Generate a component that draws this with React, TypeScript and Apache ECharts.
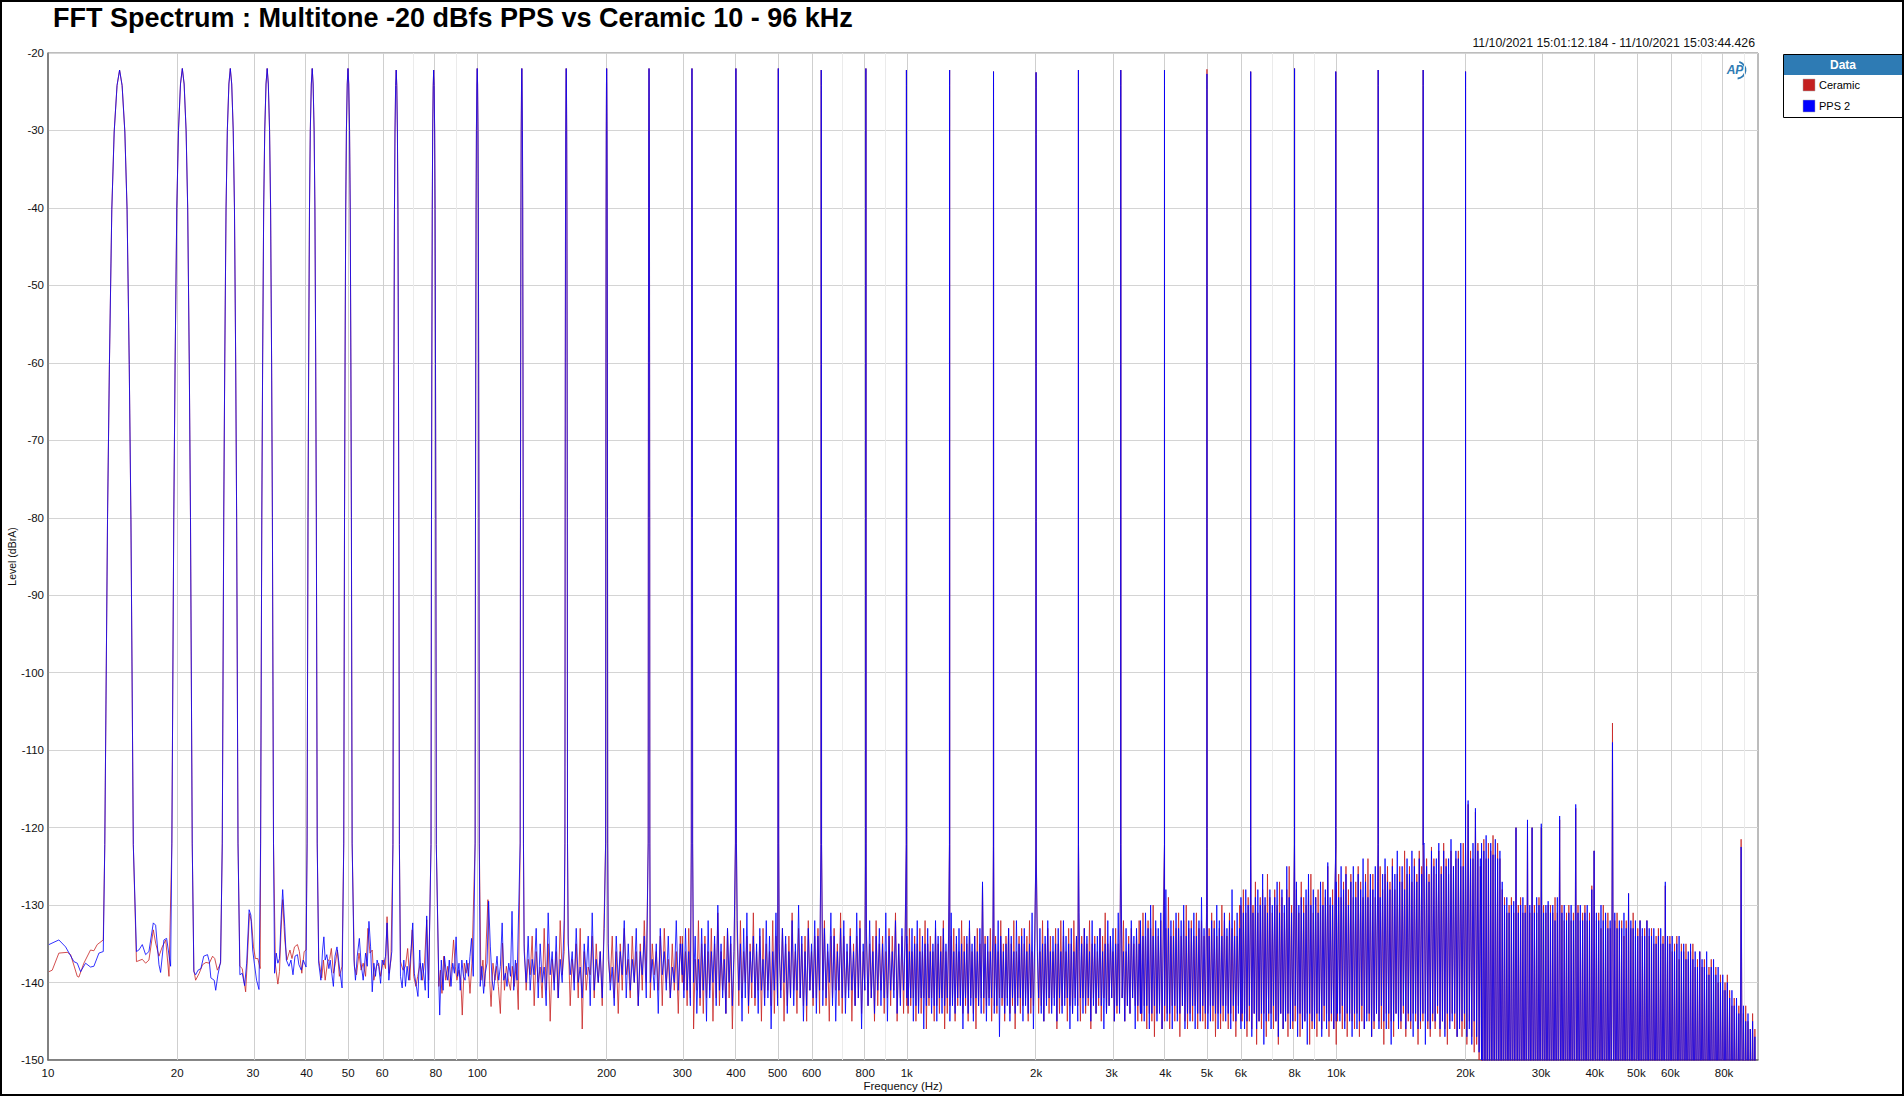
import React, { useEffect, useRef } from 'react';
import * as echarts from 'echarts';

// ---------- DATA ----------
const TONE_HZ = [14.68, 20.55, 26.58, 32.39, 41.24, 49.96, 64.7, 79.1, 99.9, 126.9, 161, 200, 251, 316, 400, 502, 632, 803, 998, 1258, 1592, 2000, 2510, 3150, 3982, 5000, 6322, 7998, 9977, 12524, 15940, 20008];
const TONE_DB_PPS = [-22.2, -22, -22, -22, -22, -22, -22.2, -22.2, -22, -22, -22, -22, -22, -22, -22, -22, -22.2, -22, -22.2, -22.2, -22.4, -22.5, -22.2, -22.2, -22.2, -22.7, -22.4, -22, -22.4, -22.2, -22.2, -22.4];
const TONE_DB_CERAMIC = [-22.2, -22, -22, -22, -22, -22, -22.2, -22.2, -22, -22, -22, -22, -22, -22, -22, -22, -22.2, -22, -22.2, -22.2, -22.4, -22.5, -22.2, -22.2, -22.2, -22.1, -22.4, -22, -22.4, -22.2, -22.2, -22.4];
// shape of each tone line around its bin (Hz offset, dB below the top)
const PEAK_OFFSET_HZ = [-1.12, -0.92, -0.78, -0.6, -0.42, -0.2, 0, 0.2, 0.42, 0.6, 0.78, 0.92, 1.12];
const PEAK_SHAPE_DB = [-100, -58, -38, -18, -8, -2, 0, -2, -8, -18, -38, -58, -100];

// low-frequency noise floor, [Hz, dB]
const LOW_PPS: [number, number][] = [
  [10.05, -135.1], [10.6, -134.5], [10.99, -135.4], [11.49, -137.3], [11.7, -137.5], [11.91, -138.6], [12.23, -137.5], [12.56, -138.0], [12.79, -137.9], [13.14, -136.2], [13.45, -136.0],
  [16.07, -136.0], [16.28, -135.8], [16.58, -135.1], [16.88, -136.4], [17.18, -136.0], [17.59, -132.3], [17.81, -132.6], [18.13, -137.7], [18.29, -138.7], [18.62, -134.5], [18.89, -134.3], [19.3, -137.9],
  [21.86, -138.6], [22.07, -139.0], [22.36, -138.4], [22.7, -138.2], [23.05, -136.6], [23.52, -136.4], [23.75, -137.3], [23.95, -139.4], [24.38, -139.7], [24.58, -141.0], [24.87, -139.0], [25.23, -137.3],
  [27.98, -139.0], [28.34, -138.8], [28.7, -140.4], [29.02, -137.5], [29.4, -130.6], [29.68, -131.3], [29.97, -135.8], [30.23, -137.5], [30.6, -139.7], [31.0, -140.9],
  [33.7, -138.8], [34.0, -136.2], [34.3, -137.5], [34.6, -136.9], [34.9, -131.9], [35.2, -128.0], [35.6, -132.8], [35.9, -137.1], [36.4, -137.9], [36.8, -137.1], [37.2, -139.0], [37.6, -136.6], [38.1, -136.4], [38.4, -137.7], [38.9, -138.4], [39.3, -137.1], [39.9, -138.0],
  [42.7, -137.5], [43.2, -139.7], [43.6, -135.8], [43.9, -134.1], [44.2, -137.1], [44.6, -136.4], [45.1, -138.2], [45.4, -137.1], [45.8, -138.8], [46.2, -140.5], [46.6, -136.6], [47.1, -135.4], [47.5, -137.1], [47.9, -138.8], [48.4, -140.7],
  [51.6, -137.1], [52.0, -139.7], [52.5, -136.6], [53.1, -134.3], [53.6, -137.5], [54.2, -139.7], [54.9, -136.2], [55.4, -137.9], [55.9, -132.1], [56.4, -135.4], [56.9, -141.2], [57.4, -137.5], [57.9, -139.2], [58.4, -137.1], [58.9, -137.9], [59.5, -140.1], [60.0, -137.1], [60.5, -137.7], [61.1, -136.6], [61.6, -132.3], [62.2, -139.7], [62.7, -137.5], [63.2, -136.0],
  [66.2, -139.2], [66.8, -140.7], [67.4, -137.1], [68.0, -140.5], [68.6, -137.9], [69.2, -139.7], [70.1, -135.6], [70.7, -132.3], [71.3, -138.8], [72.1, -140.5], [72.7, -141.8], [73.4, -135.8], [74.0, -139.7], [74.6, -137.5], [75.6, -141.0], [76.2, -131.4], [76.9, -142.0],
  [81.3, -139.7], [81.7, -144.2], [82.4, -137.1], [83.2, -141.0], [83.8, -136.6], [84.5, -138.4], [85.3, -139.7], [86.0, -137.1], [86.8, -140.5], [87.6, -137.5], [88.4, -138.8], [89.2, -134.1], [89.9, -139.2], [90.6, -137.5], [91.2, -141.0], [92.0, -137.1], [92.8, -139.2], [93.6, -139.7], [94.4, -137.1], [95.3, -139.2], [96.1, -136.6], [96.9, -134.3], [97.8, -139.2],
  [101.5, -140.5], [102.4, -137.9], [103.4, -141.4], [104.3, -138.8], [105.3, -137.5], [106.2, -129.5], [107.2, -135.4], [108.2, -139.7], [109.1, -141.0], [110.1, -138.8], [111.1, -136.6], [112.1, -139.7], [113.1, -137.9], [114.2, -132.3], [115.2, -139.7], [116.2, -138.8], [117.2, -140.5], [118.3, -137.5], [119.4, -139.2], [120.4, -130.8], [121.5, -141.0], [122.6, -137.1], [123.7, -139.7],
];
const LOW_CERAMIC: [number, number][] = [
  [10.05, -138.6], [10.23, -138.4], [10.6, -136.2], [11.09, -136.1], [11.29, -136.4], [11.7, -139.2], [11.8, -139.3], [12.12, -137.5], [12.56, -135.8], [12.79, -135.9], [13.02, -135.1], [13.45, -134.5],
  [16.07, -137.3], [16.58, -137.0], [16.88, -137.5], [17.18, -137.1], [17.59, -133.2], [17.81, -134.9], [18.13, -136.6], [18.45, -135.4], [18.8, -134.5], [19.13, -139.2],
  [21.86, -138.4], [22.07, -139.7], [22.5, -138.8], [22.9, -137.7], [23.33, -137.4], [23.75, -137.5], [24.17, -136.6], [24.45, -136.9], [24.8, -138.4], [25.23, -137.5],
  [27.98, -137.9], [28.34, -138.2], [28.86, -141.2], [29.12, -137.1], [29.45, -131.1], [29.78, -132.1], [30.1, -135.4], [30.4, -136.9], [30.8, -136.9], [31.2, -138.2],
  [33.85, -137.7], [34.3, -140.2], [34.6, -138.6], [34.9, -133.2], [35.2, -129.3], [35.6, -134.5], [36.0, -137.1], [36.6, -135.8], [37.0, -136.9], [37.5, -135.4], [38.1, -135.1], [38.5, -136.0], [39.0, -138.8], [39.5, -136.0], [39.9, -135.8],
  [42.7, -137.1], [43.4, -139.4], [43.8, -137.1], [44.2, -139.7], [44.8, -137.3], [45.3, -136.9], [45.7, -135.6], [46.2, -138.8], [46.7, -137.5], [47.2, -135.8], [47.7, -139.2], [48.4, -137.9],
  [51.7, -137.9], [52.3, -139.0], [53.0, -136.2], [53.6, -138.4], [54.2, -137.5], [54.9, -139.2], [55.6, -133.0], [56.2, -136.2], [56.9, -135.8], [57.4, -139.7], [58.2, -137.9], [58.9, -137.5], [59.5, -139.2], [60.4, -137.1], [61.1, -138.2], [61.6, -131.5], [62.3, -138.8], [62.9, -137.1],
  [66.2, -137.3], [67.1, -138.4], [68.0, -137.9], [68.8, -135.6], [69.6, -139.7], [70.5, -133.2], [71.1, -139.2], [71.9, -140.5], [72.6, -139.2], [73.6, -137.5], [74.5, -139.7], [75.3, -137.5], [76.2, -131.9], [77.0, -139.7],
  [81.3, -140.5], [82.0, -138.4], [82.7, -141.4], [83.5, -136.6], [84.4, -139.7], [85.3, -137.9], [86.2, -140.5], [87.1, -137.9], [88.0, -134.5], [88.8, -137.9], [89.6, -139.7], [90.6, -138.4], [91.5, -139.7], [92.2, -144.2], [93.2, -137.5], [94.1, -138.8], [95.1, -137.5], [96.1, -141.4], [97.1, -137.5],
  [101.9, -139.7], [103.0, -137.1], [104.0, -140.5], [104.9, -134.5], [105.8, -129.3], [106.8, -139.7], [107.6, -143.1], [108.7, -137.5], [109.9, -139.7], [110.7, -137.9], [111.9, -140.5], [113.1, -144.0], [114.4, -134.9], [115.6, -141.0], [116.8, -137.9], [118.1, -139.7], [119.4, -141.0], [120.6, -137.9], [121.9, -140.5], [123.2, -137.5], [124.5, -143.5],
];

// dense noise bands above 128 Hz: alternating bin tops (hi) and troughs (lo)
const BAND_EDGES_HZ = [128.5, 300, 1000, 3500, 6000, 10000, 21800, 95000];
const BELOW_AXIS_DB = -160; // troughs that fall below the -150 dB axis floor

const PPS_HI = [
  [-136, -134, -137, -133, -135, -138, -131, -136, -134, -137, -132, -135, -136, -133, -138, -135, -134, -131, -137, -136, -133, -135, -138, -134, -136, -132, -135, -137, -133, -136, -134, -130, -137, -135, -133, -136, -134, -138, -132, -135],
  [-135, -133, -136, -131, -134, -137, -133, -135, -132, -136, -134, -130, -135, -137, -133, -134, -136, -132, -135, -133, -131, -136, -134, -135, -133, -137, -132, -134, -136, -131, -135, -133, -134, -136, -132, -135, -130, -134, -136, -133, -135, -132, -134, -137, -133, -135, -131, -134, -136, -133, -132, -135, -134, -136, -131, -133, -135, -134, -132, -136, -134, -133, -135, -131, -134, -136, -132, -135, -133, -134],
  [-134, -136, -133, -135, -132, -136, -134, -135, -133, -136, -135, -132, -134, -136, -133, -135, -134, -131, -136, -134, -133, -135, -136, -134, -132, -135, -134, -136, -133, -127, -135, -134, -136, -133, -135, -132, -134, -136, -135, -133, -134, -136, -132, -135, -134, -133, -136, -135, -131, -134, -136, -133, -135, -134, -132, -136, -134, -135, -133, -136, -132, -134, -135, -133, -136, -134, -131, -135, -133, -134, -136, -132, -135, -134, -133, -136, -135, -132, -134, -133, -135, -131, -134, -136, -133, -135, -132, -134, -133, -135],
  [-132, -134, -131, -133, -130, -134, -132, -133, -131, -134, -128, -133, -132, -134, -131, -133, -132, -130, -134, -132, -133, -131, -134, -132, -129, -133, -131, -134, -132, -133, -130, -132, -134, -131, -133, -132, -128, -134, -131, -133],
  [-129, -131, -128, -130, -127, -131, -129, -128, -130, -126, -129, -131, -128, -130, -129, -127, -131, -128, -130, -125, -129, -131, -128, -127, -130, -129, -131, -128, -126, -130, -128, -129, -131, -127, -130, -128, -124.5, -129, -130, -127],
  [-127, -129, -125, -128, -126, -130, -127, -125, -129, -126, -128, -124, -127, -129, -126, -128, -125, -127, -129, -126, -124, -127, -128, -125, -126, -123, -127, -125, -128, -124, -126, -123, -125, -127, -124, -126, -122, -125, -127, -123, -125, -124, -122, -126, -123, -125, -124, -121.5, -125, -123, -124, -122, -125, -123, -116.5, -124, -122, -117.5, -123, -124],
  [-122, -123, -121, -124, -122, -123.5, -121.5, -124, -123, -127, -130, -129, -131, -130, -129.5, -120, -131, -130, -129, -131, -119, -130, -120, -131, -129, -130, -119.5, -131, -130, -129.5, -131, -130, -132, -129, -118.5, -131, -130, -132, -131, -130, -132, -117, -131, -130, -132, -131, -130, -132, -128, -123, -131, -132, -130, -132, -131, -133, -132, -109, -131, -133, -132, -133, -131, -133, -128.5, -132, -133, -132, -134, -132, -133, -134, -132, -133, -134, -133, -135, -134, -133, -135, -127, -134, -135, -134, -136, -135, -134, -136, -135, -137, -136, -135, -137, -136, -138, -136, -137, -138, -136, -139, -138, -137, -139, -138, -140, -139, -141, -140, -142, -141, -143, -142, -144, -122.5, -143, -145, -144, -146, -145, -147],
];
const PPS_LO = [
  [-140, -141, -139, -142, -140, -143, -139, -141, -142, -140, -144, -139, -141, -140, -142, -139, -143, -141, -140, -142, -139, -141, -143, -140, -139, -142, -141, -140, -143, -139, -142, -140, -141, -144, -139, -141, -142, -140, -141, -139],
  [-142, -141, -143, -140, -144, -142, -141, -145, -142, -140, -143, -141, -142, -144, -140, -143, -142, -141, -145, -142, -143, -140, -142, -144, -141, -143, -142, -146, -141, -143, -142, -140, -144, -142, -143, -141, -142, -145, -143, -141, -142, -144, -141, -143, -142, -140, -143, -145, -141, -142, -144, -142, -141, -143, -142, -146, -141, -143, -142, -144, -141, -143, -142, -145, -141, -142, -144, -143, -141, -142],
  [-143, -142, -145, -143, -144, -142, -146, -143, -142, -144, -143, -145, -142, -144, -143, -142, -145, -143, -144, -142, -143, -146, -142, -144, -143, -145, -142, -143, -144, -142, -145, -143, -142, -144, -143, -147, -142, -144, -143, -145, -142, -144, -143, -142, -145, -143, -144, -142, -146, -143, -142, -144, -145, -143, -142, -144, -143, -145, -142, -144, -143, -142, -146, -144, -143, -145, -142, -144, -143, -142, -145, -143, -144, -142, -143, -146, -144, -143, -142, -145, -143, -144, -142, -145, -143, -144, -142, -146, -143, -144],
  [-144, -145, -143, -146, -144, -143, -145, -144, -146, -143, -145, -144, -146, -143, -145, -144, -143, -146, -144, -145, -143, -146, -144, -145, -143, -144, -146, -145, -143, -144, -146, -144, -143, -145, -144, -146, -143, -145, -144, -146],
  [-144, -146, -145, -143, -147, -144, -146, -145, -144, -148, -145, -144, -146, -143, -145, -147, -144, -146, -145, -144, -146, -145, -143, -147, -144, -146, -145, -148, -144, -145, -146, -144, -145, -147, -143, -146, -145, -144, -146, -145],
  [-144, -145, -143, -146, -144, -145, -147, -144, -146, -145, -143, -146, -145, -144, -147, -145, -144, -146, -143, -145, -146, -144, -148, -145, -144, -146, -145, -143, -146, -144, -145, -147, -144, -146, -145, -144, -148, -145, -146, -144, -145, -143, -146, -145, -147, -144, -146, -145, -144, -147, -146, -145, -144, -147, -146, -148, -145, -147, -149, -150],
  [],
];
const CERAMIC_HI = [
  [-135, -137, -134, -136, -138, -133, -135, -137, -136, -132, -136, -134, -137, -135, -133, -136, -138, -134, -135, -136, -131, -137, -134, -136, -135, -133, -137, -134, -136, -135, -132, -137, -135, -136, -134, -133, -137, -135, -136, -134],
  [-134, -136, -133, -135, -137, -132, -135, -134, -136, -133, -135, -131, -136, -134, -133, -135, -137, -134, -132, -136, -134, -135, -131, -136, -134, -133, -135, -136, -132, -134, -136, -133, -135, -134, -131, -136, -133, -135, -134, -132, -136, -134, -133, -135, -132, -136, -134, -133, -135, -131, -134, -136, -133, -135, -134, -132, -136, -133, -135, -134, -132, -135, -134, -136, -133, -134, -131, -135, -134, -133],
  [-135, -133, -136, -134, -135, -133, -136, -132, -135, -134, -136, -133, -135, -134, -132, -136, -135, -134, -133, -135, -136, -132, -134, -135, -133, -136, -134, -133, -135, -127.5, -134, -136, -133, -135, -134, -136, -132, -135, -134, -133, -135, -132, -136, -134, -133, -135, -134, -132, -136, -135, -134, -136, -132, -135, -133, -134, -136, -133, -135, -132, -134, -136, -133, -135, -132, -134, -136, -134, -133, -135, -132, -135, -134, -136, -133, -134, -131, -135, -134, -136, -133, -135, -134, -132, -136, -134, -133, -135, -134, -132],
  [-133, -131, -134, -132, -133, -130, -133, -134, -132, -131, -133, -129, -134, -132, -133, -131, -134, -132, -130, -133, -132, -134, -131, -133, -132, -134, -130, -133, -131, -132, -134, -133, -130, -132, -134, -131, -133, -132, -134, -130],
  [-130, -128, -131, -129, -128, -130, -127, -131, -129, -128, -130, -126, -129, -131, -128, -130, -127, -129, -131, -128, -125, -130, -129, -128, -131, -127, -129, -130, -128, -126, -131, -129, -128, -130, -127, -129, -125, -130, -128, -129],
  [-128, -126, -129, -127, -125, -128, -126, -129, -127, -125, -127, -129, -126, -124, -128, -126, -129, -127, -125, -128, -126, -125, -127, -124, -128, -126, -125, -127, -123, -126, -125, -127, -124, -126, -123, -125, -127, -124, -126, -122.5, -124, -126, -123, -125, -122, -124, -126, -123, -125, -124, -123, -125, -122, -124, -117, -123, -124, -118, -122, -125],
  [-123, -121.5, -124, -122, -123, -121, -123.5, -122, -124, -128, -129, -131, -130, -129, -131, -120, -130, -129, -131, -130, -119.5, -131, -120, -130, -131, -129, -120, -130, -131, -130, -130, -131, -129, -131, -119, -130, -132, -131, -130, -132, -131, -117.5, -130, -132, -131, -130, -132, -131, -127.5, -123, -132, -131, -133, -130, -132, -131, -133, -106.5, -132, -131, -133, -132, -134, -132, -128.5, -133, -131, -134, -133, -132, -134, -133, -132, -134, -133, -135, -134, -133, -135, -134, -127.5, -135, -134, -136, -135, -134, -137, -135, -136, -135, -137, -136, -135, -138, -137, -136, -138, -137, -139, -138, -137, -139, -138, -140, -139, -141, -140, -139, -141, -143, -142, -144, -143, -121.5, -144, -143, -145, -146, -144, -146],
];
const CERAMIC_LO = [
  [-141, -139, -143, -140, -142, -141, -145, -140, -142, -139, -141, -143, -140, -142, -146, -141, -139, -142, -140, -143, -141, -140, -142, -144, -141, -139, -142, -140, -143, -141, -140, -142, -139, -141, -143, -140, -142, -141, -144, -140],
  [-141, -143, -142, -146, -141, -143, -144, -142, -141, -145, -142, -143, -141, -144, -142, -146, -141, -143, -142, -140, -144, -142, -143, -141, -145, -142, -141, -143, -144, -142, -141, -145, -143, -142, -141, -144, -142, -143, -145, -141, -143, -142, -144, -141, -143, -145, -142, -141, -143, -144, -142, -141, -145, -143, -142, -144, -141, -143, -142, -145, -143, -141, -144, -142, -143, -141, -145, -142, -144, -143],
  [-144, -143, -142, -145, -143, -144, -142, -146, -143, -142, -145, -143, -144, -142, -146, -144, -143, -142, -145, -143, -142, -144, -143, -145, -142, -144, -146, -143, -142, -144, -143, -142, -145, -143, -144, -142, -143, -145, -142, -144, -143, -146, -142, -144, -143, -142, -145, -144, -143, -142, -144, -143, -145, -142, -144, -143, -142, -146, -144, -143, -142, -145, -143, -144, -142, -143, -145, -142, -144, -143, -146, -142, -144, -143, -145, -142, -144, -143, -142, -145, -144, -143, -142, -145, -143, -144, -142, -143, -145, -144],
  [-145, -143, -146, -144, -145, -147, -144, -143, -146, -145, -144, -146, -143, -145, -144, -147, -143, -145, -146, -144, -145, -143, -146, -144, -145, -146, -144, -143, -145, -147, -144, -146, -145, -143, -146, -144, -145, -147, -143, -145],
  [-145, -144, -147, -145, -146, -144, -148, -145, -146, -144, -147, -145, -144, -146, -145, -148, -144, -146, -145, -147, -144, -146, -145, -144, -147, -146, -145, -144, -148, -146, -145, -147, -144, -146, -145, -144, -147, -145, -146, -148],
  [-145, -144, -146, -145, -147, -144, -145, -146, -144, -147, -145, -146, -144, -145, -147, -146, -144, -145, -146, -148, -144, -146, -145, -147, -144, -145, -146, -144, -147, -145, -146, -144, -145, -148, -146, -145, -144, -146, -147, -145, -146, -144, -147, -145, -146, -148, -145, -144, -146, -147, -145, -147, -146, -148, -145, -147, -149, -148, -150, -151],
  [],
];

// axis ticks
const TICK_HZ = [10, 20, 30, 40, 50, 60, 80, 100, 200, 300, 400, 500, 600, 800, 1000, 2000, 3000, 4000, 5000, 6000, 8000, 10000, 20000, 30000, 40000, 50000, 60000, 80000];
const TICK_LABELS = ['10', '20', '30', '40', '50', '60', '80', '100', '200', '300', '400', '500', '600', '800', '1k', '2k', '3k', '4k', '5k', '6k', '8k', '10k', '20k', '30k', '40k', '50k', '60k', '80k'];
const MINOR_GRID_HZ = [70, 90, 700, 900, 7000, 9000, 70000, 90000];
const X_MIN_HZ = 10;
const X_MAX_HZ = 96000;

const TITLE = 'FFT Spectrum : Multitone -20 dBfs PPS vs Ceramic 10 - 96 kHz';
const TIMESTAMP = '11/10/2021 15:01:12.184 - 11/10/2021 15:03:44.426';

// ---------- build ----------
function buildSeries(low: [number, number][], hiBands: number[][], loBands: number[][], tonesDb: number[]) {
  const pts: [number, number][] = [];
  low.forEach((p) => pts.push([p[0], p[1]]));
  hiBands.forEach((hi, b) => {
    const lo = loBands[b] || [];
    const from = BAND_EDGES_HZ[b];
    const to = BAND_EDGES_HZ[b + 1];
    const n = hi.length * 2;
    for (let k = 0; k < n; k++) {
      const f = from * Math.pow(to / from, k / (n - 1));
      const i = Math.floor(k / 2);
      const v = k % 2 === 0 ? hi[i] : lo.length ? lo[i] : BELOW_AXIS_DB;
      if (TONE_HZ.some((t) => Math.abs(t - f) < 1.25)) continue;
      pts.push([f, v]);
    }
  });
  TONE_HZ.forEach((t, i) => {
    PEAK_OFFSET_HZ.forEach((o, j) => pts.push([t + o, tonesDb[i] + PEAK_SHAPE_DB[j]]));
  });
  pts.sort((a, b) => a[0] - b[0]);
  return pts.map((p) => [Math.log10(p[0]), p[1]]);
}

export default function App() {
  const ref = useRef<HTMLDivElement>(null);
  useEffect(() => {
    document.body.style.margin = '0';
    const chart = echarts.init(ref.current!, null, { renderer: 'svg' });
    const font = 'Liberation Sans, Arial, sans-serif';
    const tickVals = TICK_HZ.map((f) => Math.log10(f));
    const fmt = (v: number) => {
      const i = tickVals.findIndex((t) => Math.abs(t - v) < 1e-6);
      return i >= 0 ? TICK_LABELS[i] : '';
    };
    const gridLines = [
      ...TICK_HZ.slice(1).map((f) => ({ xAxis: Math.log10(f), lineStyle: { color: '#cfcfcf', width: 1, type: 'solid' } })),
      ...MINOR_GRID_HZ.map((f) => ({ xAxis: Math.log10(f), lineStyle: { color: '#ebebeb', width: 1, type: 'solid' } })),
    ];
    const option: any = {
      animation: false,
      backgroundColor: '#ffffff',
      grid: { left: 48, right: 146, top: 53, bottom: 36, show: true, borderColor: '#7a7a7a', borderWidth: 1, outerBoundsMode: 'none', containLabel: false },
      xAxis: {
        type: 'value',
        min: Math.log10(X_MIN_HZ),
        max: Math.log10(X_MAX_HZ),
        name: 'Frequency (Hz)',
        nameLocation: 'middle',
        nameGap: 20,
        nameMoveOverlap: false,
        nameTextStyle: { fontFamily: font, fontSize: 11.5, color: '#111' },
        axisLine: { show: true, lineStyle: { color: '#6e6e6e', width: 1.5 } },
        axisTick: { show: false, customValues: tickVals },
        axisLabel: { customValues: tickVals, formatter: fmt, fontFamily: font, fontSize: 11.5, color: '#111', margin: 7 },
        splitLine: { show: false },
      },
      yAxis: {
        type: 'value',
        min: -150,
        max: -20,
        interval: 10,
        name: 'Level (dBrA)',
        nameLocation: 'middle',
        nameGap: 31,
        nameMoveOverlap: false,
        nameTextStyle: { fontFamily: font, fontSize: 10.5, color: '#111' },
        axisLine: { show: true, lineStyle: { color: '#6e6e6e', width: 1.5 } },
        axisTick: { show: false },
        axisLabel: { fontFamily: font, fontSize: 11.5, color: '#111', margin: 4 },
        splitLine: { show: true, lineStyle: { color: '#d4d4d4', width: 1 } },
      },
      series: [
        {
          type: 'line',
          name: 'grid',
          data: [],
          z: 1,
          silent: true,
          markLine: { silent: true, z: 1, symbol: ['none', 'none'], label: { show: false }, animation: false, data: gridLines },
        },
        {
          type: 'line',
          name: 'Ceramic',
          data: buildSeries(LOW_CERAMIC, CERAMIC_HI, CERAMIC_LO, TONE_DB_CERAMIC),
          showSymbol: false,
          symbol: 'none',
          z: 2,
          lineStyle: { color: 'rgb(200,35,35)', width: 1, opacity: 0.8 },
          itemStyle: { color: 'rgb(200,35,35)' },
        },
        {
          type: 'line',
          name: 'PPS 2',
          data: buildSeries(LOW_PPS, PPS_HI, PPS_LO, TONE_DB_PPS),
          showSymbol: false,
          symbol: 'none',
          z: 3,
          lineStyle: { color: 'rgb(0,0,255)', width: 1, opacity: 0.8 },
          itemStyle: { color: 'rgb(0,0,255)' },
        },
      ],
      graphic: [
        { type: 'rect', shape: { x: 1, y: 1, width: 1902, height: 1094 }, style: { fill: 'none', stroke: '#000', lineWidth: 2 }, z: 100 },
        { type: 'text', x: 53, y: 17.5, style: { text: TITLE, fontFamily: font, fontSize: 27, fontWeight: 'bold', fill: '#000', textVerticalAlign: 'middle' } },
        { type: 'text', x: 1755, y: 43, style: { text: TIMESTAMP, fontFamily: font, fontSize: 12.3, fill: '#111', textAlign: 'right', textVerticalAlign: 'middle' } },
        // AP logo
        { type: 'arc', shape: { cx: 1737, cy: 70, r: 8.5, startAngle: -1.3, endAngle: 1.5 }, style: { stroke: '#2e7bb4', lineWidth: 1.8, fill: 'none' } },
        { type: 'text', x: 1735, y: 70, style: { text: 'AP', fontFamily: font, fontSize: 12, fontWeight: 'bold', fontStyle: 'italic', fill: '#2e7bb4', textAlign: 'center', textVerticalAlign: 'middle' } },
        // legend box
        { type: 'rect', shape: { x: 1783.5, y: 54.5, width: 119, height: 63 }, style: { fill: '#fff', stroke: '#000', lineWidth: 1 } },
        { type: 'rect', shape: { x: 1784, y: 55, width: 118, height: 20 }, style: { fill: '#2e7bb4' } },
        { type: 'text', x: 1843, y: 65, style: { text: 'Data', fontFamily: font, fontSize: 12, fontWeight: 'bold', fill: '#fff', textAlign: 'center', textVerticalAlign: 'middle' } },
        { type: 'rect', shape: { x: 1803, y: 79, width: 12, height: 12 }, style: { fill: '#c42020', stroke: '#aaa', lineWidth: 0.5 } },
        { type: 'text', x: 1819, y: 85, style: { text: 'Ceramic', fontFamily: font, fontSize: 11, fill: '#000', textVerticalAlign: 'middle' } },
        { type: 'rect', shape: { x: 1803, y: 100, width: 12, height: 12 }, style: { fill: '#0000ff', stroke: '#aaa', lineWidth: 0.5 } },
        { type: 'text', x: 1819, y: 106, style: { text: 'PPS 2', fontFamily: font, fontSize: 11, fill: '#000', textVerticalAlign: 'middle' } },
      ],
    };
    chart.setOption(option);
    return () => chart.dispose();
  }, []);
  return <div ref={ref} style={{ width: 1904, height: 1096 }} />;
}
